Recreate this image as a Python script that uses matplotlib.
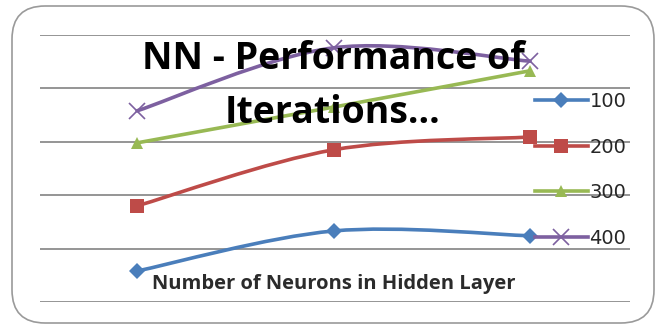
import numpy as np
import matplotlib
matplotlib.use("Agg")
import matplotlib.pyplot as plt
from matplotlib.path import Path
from matplotlib.patches import PathPatch, FancyBboxPatch
from matplotlib.lines import Line2D

categories = ["1", "2", "3"]
series_names = ["100", "200", "300", "400"]
s100 = [0.58, 1.33, 1.24]
s200 = [1.80, 2.85, 3.09]
s300 = [2.98, 3.65, 4.33]
s400 = [3.58, 4.76, 4.51]
series_values = [s100, s200, s300, s400]
colors = ["#4A7EBB", "#BE4B48", "#98B954", "#7D60A0"]
markers = ["D", "s", "^", "x"]
msizes = [8, 10, 9, 11]

title = "NN - Performance of\nIterations..."
xlabel = "Number of Neurons in Hidden Layer"

fig = plt.figure(figsize=(6.61, 3.29), dpi=100)
fig.patch.set_facecolor("white")

# rounded chart border
border = FancyBboxPatch((12 / 661, 6 / 329), 642 / 661, 317 / 329,
                        boxstyle="round,pad=0,rounding_size=0.05",
                        transform=fig.transFigure, facecolor="none",
                        edgecolor="#9a9a9a", linewidth=1.2, mutation_aspect=661 / 329,
                        zorder=-1)
fig.patches.append(border)

ax = fig.add_axes([40 / 661, 27 / 329, 590 / 661, 267 / 329])
ax.set_facecolor("none")
ax.set_xlim(-0.494, 2.509)
ax.set_ylim(0, 5)
for s in ax.spines.values():
    s.set_visible(False)
ax.set_xticks([])
ax.set_yticks([])
for g in range(6):
    ax.axhline(g, color="#8c8c8c", linewidth=1.3, zorder=1)

x = np.arange(len(categories))


def smooth_path(xs, ys, t=0.5):
    xs = np.asarray(xs, float)
    ys = np.asarray(ys, float)
    pts = np.column_stack([xs, ys])
    verts = [pts[0]]
    codes = [Path.MOVETO]
    n = len(pts)
    for i in range(n - 1):
        p0 = pts[i - 1] if i > 0 else pts[i]
        p1 = pts[i]
        p2 = pts[i + 1]
        p3 = pts[i + 2] if i + 2 < n else pts[i + 1]
        c1 = p1 + (p2 - p0) * t / 3
        c2 = p2 - (p3 - p1) * t / 3
        verts += [c1, c2, p2]
        codes += [Path.CURVE4] * 3
    return Path(verts, codes)


handles = []
for vals, c, m, ms, name in zip(series_values, colors, markers, msizes, series_names):
    ax.add_patch(PathPatch(smooth_path(x, vals), facecolor="none", edgecolor=c,
                           linewidth=2.6, zorder=3, capstyle="round"))
    mew = 1.2 if m == "x" else 0
    ax.plot(x, vals, linestyle="none", marker=m, markersize=ms, color=c,
            markeredgecolor=c, markeredgewidth=mew, zorder=4)
    handles.append(Line2D([], [], color=c, linewidth=2.6, marker=m, markersize=ms,
                          markeredgecolor=c, markeredgewidth=mew, label=name))

fig.text(333 / 661, 1 - 86 / 329, title, ha="center", va="center",
         fontsize=27, fontweight="bold", color="black", linespacing=1.55,
         family="Open Sans", zorder=10)

fig.text(334 / 661, 1 - 284 / 329, xlabel, ha="center", va="center",
         fontsize=14.5, fontweight="bold", color="#2b2b2b", family="Open Sans", zorder=10)

leg = fig.legend(handles=handles, loc="upper left", bbox_to_anchor=(535 / 661, 1 - 92 / 329),
                 frameon=False, fontsize=14, handlelength=2.7, handletextpad=0.1,
                 labelspacing=1.37, numpoints=1, borderaxespad=0, borderpad=0)
for t in leg.get_texts():
    t.set_color("#262626")

fig.savefig("out.png", dpi=100)
